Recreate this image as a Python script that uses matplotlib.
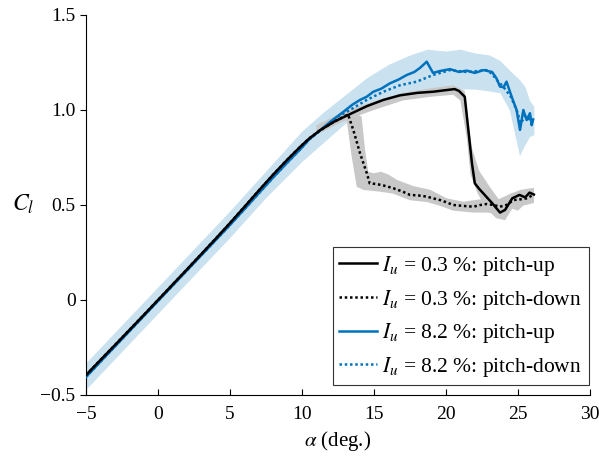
import numpy as np
import matplotlib
matplotlib.use('Agg')
import matplotlib.pyplot as plt

# fonts: Times-like text, STIX for the math bits
plt.rcParams['font.family'] = 'serif'
plt.rcParams['font.serif'] = ['Liberation Serif', 'DejaVu Serif']
plt.rcParams['mathtext.fontset'] = 'stix'

# ---- data (alpha in deg., Cl) ----
lin_a = [-5, -4, -3, -2, -1, 0, 1, 2, 3, 4, 5, 6, 7, 8, 9, 9.9]
lin_cl_black = [-0.395, -0.316, -0.238, -0.159, -0.080, 0.0, 0.080, 0.160,
                0.241, 0.322, 0.405, 0.490, 0.576, 0.660, 0.740, 0.808]
lin_cl_blue = [-0.405, -0.325, -0.245, -0.165, -0.085, -0.005, 0.075, 0.155,
               0.235, 0.315, 0.395, 0.478, 0.562, 0.645, 0.725, 0.795]

# low turbulence, pitch-up
up03_a = lin_a + [10.5, 11.25, 12.2, 13.1, 14.5, 15.65, 16.8, 18.0, 19.1, 20.05,
                  20.6, 20.9, 21.3, 21.55, 21.8, 22.0, 22.3, 22.6, 23.2, 23.75,
                  24.1, 24.6, 25.1, 25.5, 25.8, 26.1]
up03_cl = lin_cl_black + [0.850, 0.893, 0.937, 0.970, 1.020, 1.053, 1.077, 1.090,
                          1.096, 1.105, 1.110, 1.100, 1.070, 0.895, 0.720, 0.614,
                          0.585, 0.560, 0.510, 0.460, 0.474, 0.535, 0.553, 0.540,
                          0.565, 0.555]

# low turbulence, pitch-down
dn03_a = lin_a + [10.5, 11.25, 12.2, 13.2, 13.56, 14.03, 14.5, 14.7, 15.2, 15.8,
                  16.34, 17.0, 17.5, 18.1, 18.66, 19.1, 19.58, 20.0, 20.5, 21.2,
                  21.9, 22.4, 22.8, 23.3, 23.75, 24.2, 24.7, 25.2, 25.6, 26.06]
dn03_cl = lin_cl_black + [0.850, 0.893, 0.937, 0.976, 0.895, 0.772, 0.667, 0.614,
                          0.610, 0.600, 0.588, 0.570, 0.553, 0.550, 0.544, 0.535,
                          0.526, 0.515, 0.500, 0.495, 0.491, 0.500, 0.505, 0.500,
                          0.491, 0.500, 0.526, 0.530, 0.535, 0.553]

# high turbulence, pitch-up
up82_a = lin_a + [10.5, 11.25, 12.0, 12.87, 13.5, 14.03, 14.5, 14.95, 15.5, 16.1,
                  16.7, 17.27, 17.8, 18.2, 18.66, 19.1, 19.58, 20.28, 20.9, 21.44,
                  22.0, 22.6, 23.2, 23.5, 23.75, 24.0, 24.2, 24.56, 24.9, 25.14,
                  25.37, 25.6, 25.83, 25.95, 26.05]
up82_cl = lin_cl_blue + [0.845, 0.893, 0.940, 0.990, 1.028, 1.053, 1.070, 1.096,
                         1.112, 1.140, 1.160, 1.184, 1.200, 1.222, 1.254, 1.195,
                         1.205, 1.215, 1.200, 1.207, 1.195, 1.210, 1.200, 1.167,
                         1.123, 1.120, 1.149, 1.070, 1.000, 0.895, 1.000, 0.947,
                         0.983, 0.920, 0.950]

# high turbulence, pitch-down
dn82_a = lin_a + [10.5, 11.25, 12.5, 13.33, 14.5, 15.65, 16.8, 17.97, 19.1, 20.28,
                  21.4, 22.2, 22.8, 23.2, 23.5, 24.0, 24.5, 24.9, 25.2, 25.5, 25.8,
                  26.05]
dn82_cl = lin_cl_blue + [0.845, 0.890, 0.965, 1.000, 1.053, 1.096, 1.130, 1.149,
                         1.184, 1.210, 1.200, 1.205, 1.210, 1.190, 1.160, 1.120,
                         1.070, 1.000, 0.930, 0.970, 0.950, 0.940]

# spread bands (outline points)
band82_a = [-5, -2.5, 0, 2.5, 5, 7.5, 10, 11.5, 13, 14.5, 16, 17.5, 18.7, 20, 21,
            22, 23, 23.75, 24.4, 25.1, 25.5, 25.8, 26.1]
band82_lo = [-0.47, -0.27, -0.07, 0.13, 0.33, 0.54, 0.73, 0.83, 0.93, 1.0, 1.05,
             1.08, 1.10, 1.11, 1.11, 1.11, 1.10, 1.09, 1.0, 0.76, 0.82, 0.86, 0.87]
band82_hi = [-0.33, -0.13, 0.07, 0.27, 0.47, 0.68, 0.89, 0.99, 1.08, 1.17, 1.24,
             1.29, 1.32, 1.31, 1.32, 1.30, 1.29, 1.26, 1.21, 1.16, 1.12, 1.05, 1.02]

bup03_hi_a = [11, 13, 15, 17, 19, 20.5, 21.3, 21.8, 22.3, 23.0, 23.75, 24.5, 25.2, 26.1]
bup03_hi = [0.92, 0.995, 1.045, 1.09, 1.115, 1.13, 1.10, 0.80, 0.68, 0.60, 0.52, 0.56,
            0.58, 0.59]
bup03_lo_a = [11, 13, 15, 17, 19, 20.5, 21.0, 21.45, 21.7, 22.2, 22.8, 23.5, 24.1,
              24.6, 25.0, 25.4, 26.1]
bup03_lo = [0.87, 0.945, 1.0, 1.05, 1.07, 1.08, 1.05, 0.85, 0.66, 0.56, 0.48, 0.43,
            0.42, 0.48, 0.47, 0.50, 0.51]

bdn03_hi_a = [12.5, 13.1, 14.14, 14.38, 14.6, 14.95, 15.5, 16.0, 16.6, 17.7, 18.9,
              20.05, 21.2, 22.4, 23.5, 24.5, 25.5, 26.1]
bdn03_hi = [0.975, 1.0, 0.965, 0.79, 0.675, 0.667, 0.675, 0.66, 0.632, 0.60, 0.58,
            0.535, 0.517, 0.53, 0.525, 0.56, 0.57, 0.585]
bdn03_lo_a = [12.5, 13.1, 13.45, 13.8, 14.26, 15.4, 16.3, 17.5, 18.7, 19.6, 20.5,
              21.9, 22.8, 23.75, 24.7, 25.6, 26.1]
bdn03_lo = [0.93, 0.947, 0.754, 0.596, 0.579, 0.57, 0.56, 0.525, 0.515, 0.495, 0.47,
            0.46, 0.46, 0.455, 0.49, 0.50, 0.515]

blue = '#0072BD'
blue_band = '#cae2f0'
grey_band = '#c8c8c8'

fig = plt.figure(figsize=(5.99, 4.58), dpi=100)
ax = fig.add_axes([0.1436, 0.1376, 0.8414, 0.8297])

# bands
ax.fill_between(band82_a, band82_lo, band82_hi, color=blue_band, lw=0, zorder=1)
ax.fill(np.r_[bup03_hi_a, bup03_lo_a[::-1]], np.r_[bup03_hi, bup03_lo[::-1]],
        color=grey_band, lw=0, zorder=2)
ax.fill(np.r_[bdn03_hi_a, bdn03_lo_a[::-1]], np.r_[bdn03_hi, bdn03_lo[::-1]],
        color=grey_band, lw=0, zorder=2)

# lines
dots = (0, (1, 1.1))
ax.plot(up03_a, up03_cl, color='black', lw=1.8, zorder=5,
        label=r'$I_u$ = 0.3 %: pitch-up')
ax.plot(dn03_a, dn03_cl, color='black', lw=1.8, ls=dots, zorder=4,
        label=r'$I_u$ = 0.3 %: pitch-down')
ax.plot(up82_a, up82_cl, color=blue, lw=1.8, zorder=3,
        label=r'$I_u$ = 8.2 %: pitch-up')
ax.plot(dn82_a, dn82_cl, color=blue, lw=1.8, ls=dots, zorder=3,
        label=r'$I_u$ = 8.2 %: pitch-down')

ax.set_xlim(-5, 30)
ax.set_ylim(-0.5, 1.5)
ax.set_xticks([-5, 0, 5, 10, 15, 20, 25, 30])
ax.set_xticklabels(['\u22125', '0', '5', '10', '15', '20', '25', '30'])
ax.set_yticks([-0.5, 0, 0.5, 1.0, 1.5])
ax.set_yticklabels(['\u22120.5', '0', '0.5', '1.0', '1.5'])

for s in ['top', 'right']:
    ax.spines[s].set_visible(False)
for s in ['left', 'bottom']:
    ax.spines[s].set_linewidth(0.8)
ax.tick_params(axis='x', direction='in', length=4, width=0.8, labelsize=14, pad=8)
ax.tick_params(axis='y', direction='out', length=4.5, width=0.8, labelsize=14, pad=3)

ax.set_xlabel(r'$\alpha$ (deg.)', fontsize=15, labelpad=4)
ax.set_ylabel(r'$C_l$', fontsize=17, rotation=0)
ax.yaxis.set_label_coords(-0.125, 0.47)

leg = ax.legend(loc='lower right', bbox_to_anchor=(0.997, 0.025), fontsize=15.5,
                frameon=True, fancybox=False, edgecolor='#333333', framealpha=1,
                borderaxespad=0, handlelength=1.75, handletextpad=0.25,
                labelspacing=0.45, borderpad=0.3)
leg.get_frame().set_linewidth(0.8)

fig.savefig('out.png', dpi=100)
